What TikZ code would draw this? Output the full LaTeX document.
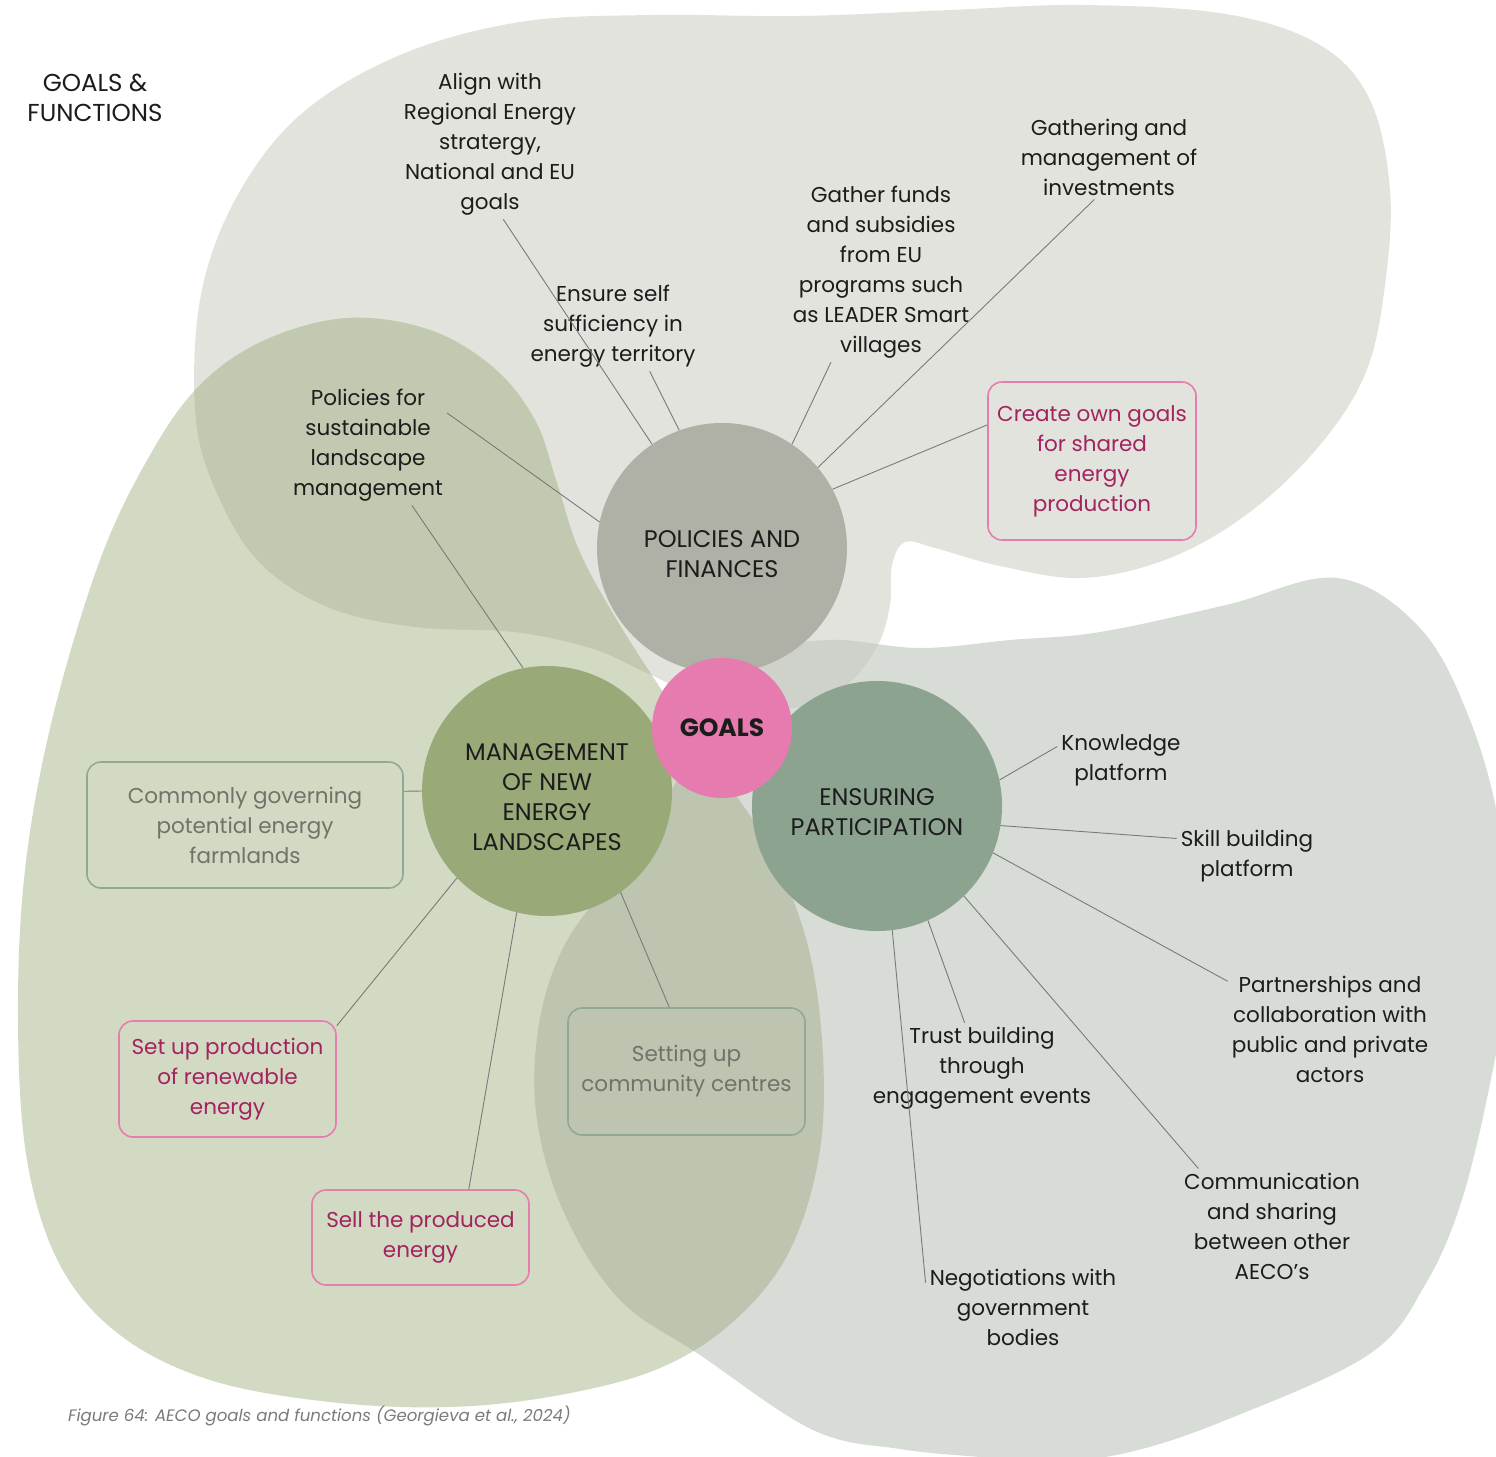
\documentclass[tikz,border=0pt]{standalone}
\usepackage{fontspec}
\setmainfont{Poppins}
\usepackage{xcolor}
\definecolor{blobgrey}{HTML}{E3E3DE}
\definecolor{blobgreen}{HTML}{D2DAC4}
\definecolor{blobsage}{HTML}{D7DCD6}
\definecolor{lapAC}{HTML}{C1C9B1}
\definecolor{lapCD}{HTML}{BDC5B0}
\definecolor{lapAD}{HTML}{CFD2CB}
\definecolor{polgrey}{HTML}{AFB0A6}
\definecolor{goalpink}{HTML}{E57BAE}
\definecolor{manolive}{HTML}{9AA978}
\definecolor{ensgreen}{HTML}{8CA38F}
\definecolor{boxpink}{HTML}{E67DAE}
\definecolor{pinktext}{HTML}{A3235F}
\definecolor{boxgreen}{HTML}{94A796}
\definecolor{greytext}{HTML}{6F7469}
\definecolor{txtdark}{HTML}{1C1C1C}
\definecolor{linegrey}{HTML}{7A7A7A}
\usetikzlibrary{positioning}
\newcommand{\toppad}{\rule{0pt}{30pt}}
\tikzset{
  tx/.style={align=center, inner sep=4pt, text=txtdark, font=\fontsize{21.5}{30}\selectfont},
  crc/.style={circle, minimum size=250pt, inner sep=0pt, align=center, text=txtdark,
              font=\fontsize{24}{30}\selectfont},
  cpol/.style={crc, fill=polgrey},
  cman/.style={crc, fill=manolive},
  cens/.style={crc, fill=ensgreen},
  cgoal/.style={crc, fill=goalpink, minimum size=140pt, font=\fontsize{25}{30}\selectfont\bfseries},
  bx/.style={draw, rounded corners=14pt, line width=1.6pt, align=center, inner sep=4pt,
             font=\fontsize{21.5}{30}\selectfont},
  bpink/.style={bx, draw=boxpink, text=pinktext},
  bgreen/.style={bx, draw=boxgreen, text=greytext},
  ln/.style={draw=linegrey, line width=0.9pt},
  figcap/.style={inner sep=0pt, text=linegrey, font=\fontsize{16.6}{20}\selectfont\itshape},
}

% background shapes, in pixel units
\def\blobA{plot[smooth cycle, tension=0.6] coordinates {(196,420) (200,300) (235,200)
  (300,115) (400,55) (520,22) (650,15) (800,16) (950,10) (1083,5) (1226,14) (1320,45)
  (1370,100) (1390,190) (1385,285) (1366,372) (1320,445) (1250,512) (1170,558) (1083,578)
  (1000,566) (935,548) (905,542) (892,565) (890,605) (878,645) (850,682) (810,705)
  (760,708) (700,697) (645,672) (590,648) (514,632) (415,627) (330,608) (262,565) (220,500)}}
\def\blobC{plot[smooth cycle, tension=0.6] coordinates {(348,318) (430,330) (494,368)
  (535,420) (556,480) (578,548) (612,612) (655,680) (710,760) (765,840) (805,935)
  (822,1040) (820,1150) (790,1250) (735,1320) (660,1368) (560,1395) (450,1407) (330,1402)
  (210,1380) (120,1335) (60,1265) (27,1160) (18,1020) (25,870) (52,720) (100,560)
  (150,455) (200,385) (265,340)}}
\def\blobD{plot[smooth cycle, tension=0.6] coordinates {(700,1355) (620,1300) (565,1215)
  (537,1120) (538,1030) (562,950) (610,880) (665,800) (715,720) (765,655) (830,640)
  (920,648) (1010,640) (1100,632) (1226,605) (1337,578) (1420,628) (1470,720) (1500,830)
  (1510,960) (1496,1054) (1464,1193) (1425,1285) (1368,1355) (1226,1420) (1130,1452)
  (1050,1462) (980,1457) (900,1449) (813,1430)}}

\begin{document}
\begin{tikzpicture}[x=1pt, y=-1pt]
  \useasboundingbox (0,0) rectangle (1496,1456);
  \begin{scope}
    \clip (0,0) rectangle (1496,1456);
    \fill[blobgrey] \blobA;
    \fill[blobgreen] \blobC;
    \fill[blobsage] \blobD;
    \begin{scope} \clip \blobA; \fill[lapAC] \blobC; \end{scope}
    \begin{scope} \clip \blobC; \fill[lapCD] \blobD; \end{scope}
    \begin{scope} \clip \blobA; \fill[lapAD] \blobD; \end{scope}
  \end{scope}

  % circles
  \node[cpol] (pol) at (722,548) {\toppad POLICIES AND\\FINANCES};
  \node[cman] (man) at (547,791) {\toppad MANAGEMENT\\OF NEW\\ENERGY\\LANDSCAPES};
  \node[cens] (ens) at (877,806) {\toppad ENSURING\\PARTICIPATION};
  \node[cgoal] (goal) at (722,728) {GOALS};

  % texts and boxes
  \node[tx, font=\fontsize{24.5}{30}\selectfont] (head) at (95,98) {GOALS \&\\FUNCTIONS};
  \node[tx] (align) at (490,144) {Align with\\Regional Energy\\stratergy,\\National and EU\\goals};
  \node[tx] (ensure) at (613,326) {Ensure self\\sufficiency in\\energy territory};
  \node[tx] (funds) at (881,272) {Gather funds\\and subsidies\\from EU\\programs such\\as LEADER Smart\\villages};
  \node[tx] (invest) at (1109,157) {Gathering and\\management of\\investments};
  \node[bpink, minimum width=208pt, minimum height=158pt] (owngoals) at (1092,461)
    {Create own goals\\for shared\\energy\\production};
  \node[tx] (landpol) at (368,445) {Policies for\\sustainable\\landscape\\management};
  \node[bgreen, minimum width=316pt, minimum height=126pt] (farm) at (245,825)
    {Commonly governing\\potential energy\\farmlands};
  \node[bpink, minimum width=217pt, minimum height=116pt] (setup) at (227.5,1079)
    {Set up production\\of renewable\\energy};
  \node[bpink, minimum width=217pt, minimum height=95pt] (sell) at (420.5,1237.5)
    {Sell the produced\\energy};
  \node[bgreen, minimum width=237pt, minimum height=127pt] (centres) at (686.5,1071.5)
    {Setting up\\community centres};
  \node[tx] (know) at (1121,760) {Knowledge\\platform};
  \node[tx] (skill) at (1247,856) {Skill building\\platform};
  \node[tx] (partner) at (1330,1029) {Partnerships and\\collaboration with\\public and private\\actors};
  \node[tx] (trust) at (982,1068) {Trust building\\through\\engagement events};
  \node[tx] (comm) at (1272,1226) {Communication\\and sharing\\between other\\AECO’s};
  \node[tx] (nego) at (1023,1307) {Negotiations with\\government\\bodies};
  \node[figcap, anchor=west] (caption) at (68,1416)
    {Figure 64: AECO goals and functions (Georgieva et al., 2024)};

  % connectors
  \draw[ln] (pol.124) -- (align.-80);
  \draw[ln] (pol.110) -- (ensure.-51);
  \draw[ln] (pol.56) -- (funds.-119);
  \draw[ln] (pol.40) -- (invest.-109);
  \draw[ln] (pol.28) -- (owngoals.161);
  \draw[ln] (pol.168) -- (landpol.22);
  \draw[ln] (man.101) -- (landpol.-54);
  \draw[ln] (man.180) -- (farm.12);
  \draw[ln] (man.-136) -- (setup.26);
  \draw[ln] (man.-104) -- (sell.45);
  \draw[ln] (man.-54) -- (centres.105);
  \draw[ln] (ens.12) -- (know.168);
  \draw[ln] (ens.-9) -- (skill.166);
  \draw[ln] (ens.-22) -- (partner.155);
  \draw[ln] (ens.-46) -- (comm.142);
  \draw[ln] (ens.-66) -- (trust.111);
  \draw[ln] (ens.-83) -- (nego.166);
\end{tikzpicture}
\end{document}
